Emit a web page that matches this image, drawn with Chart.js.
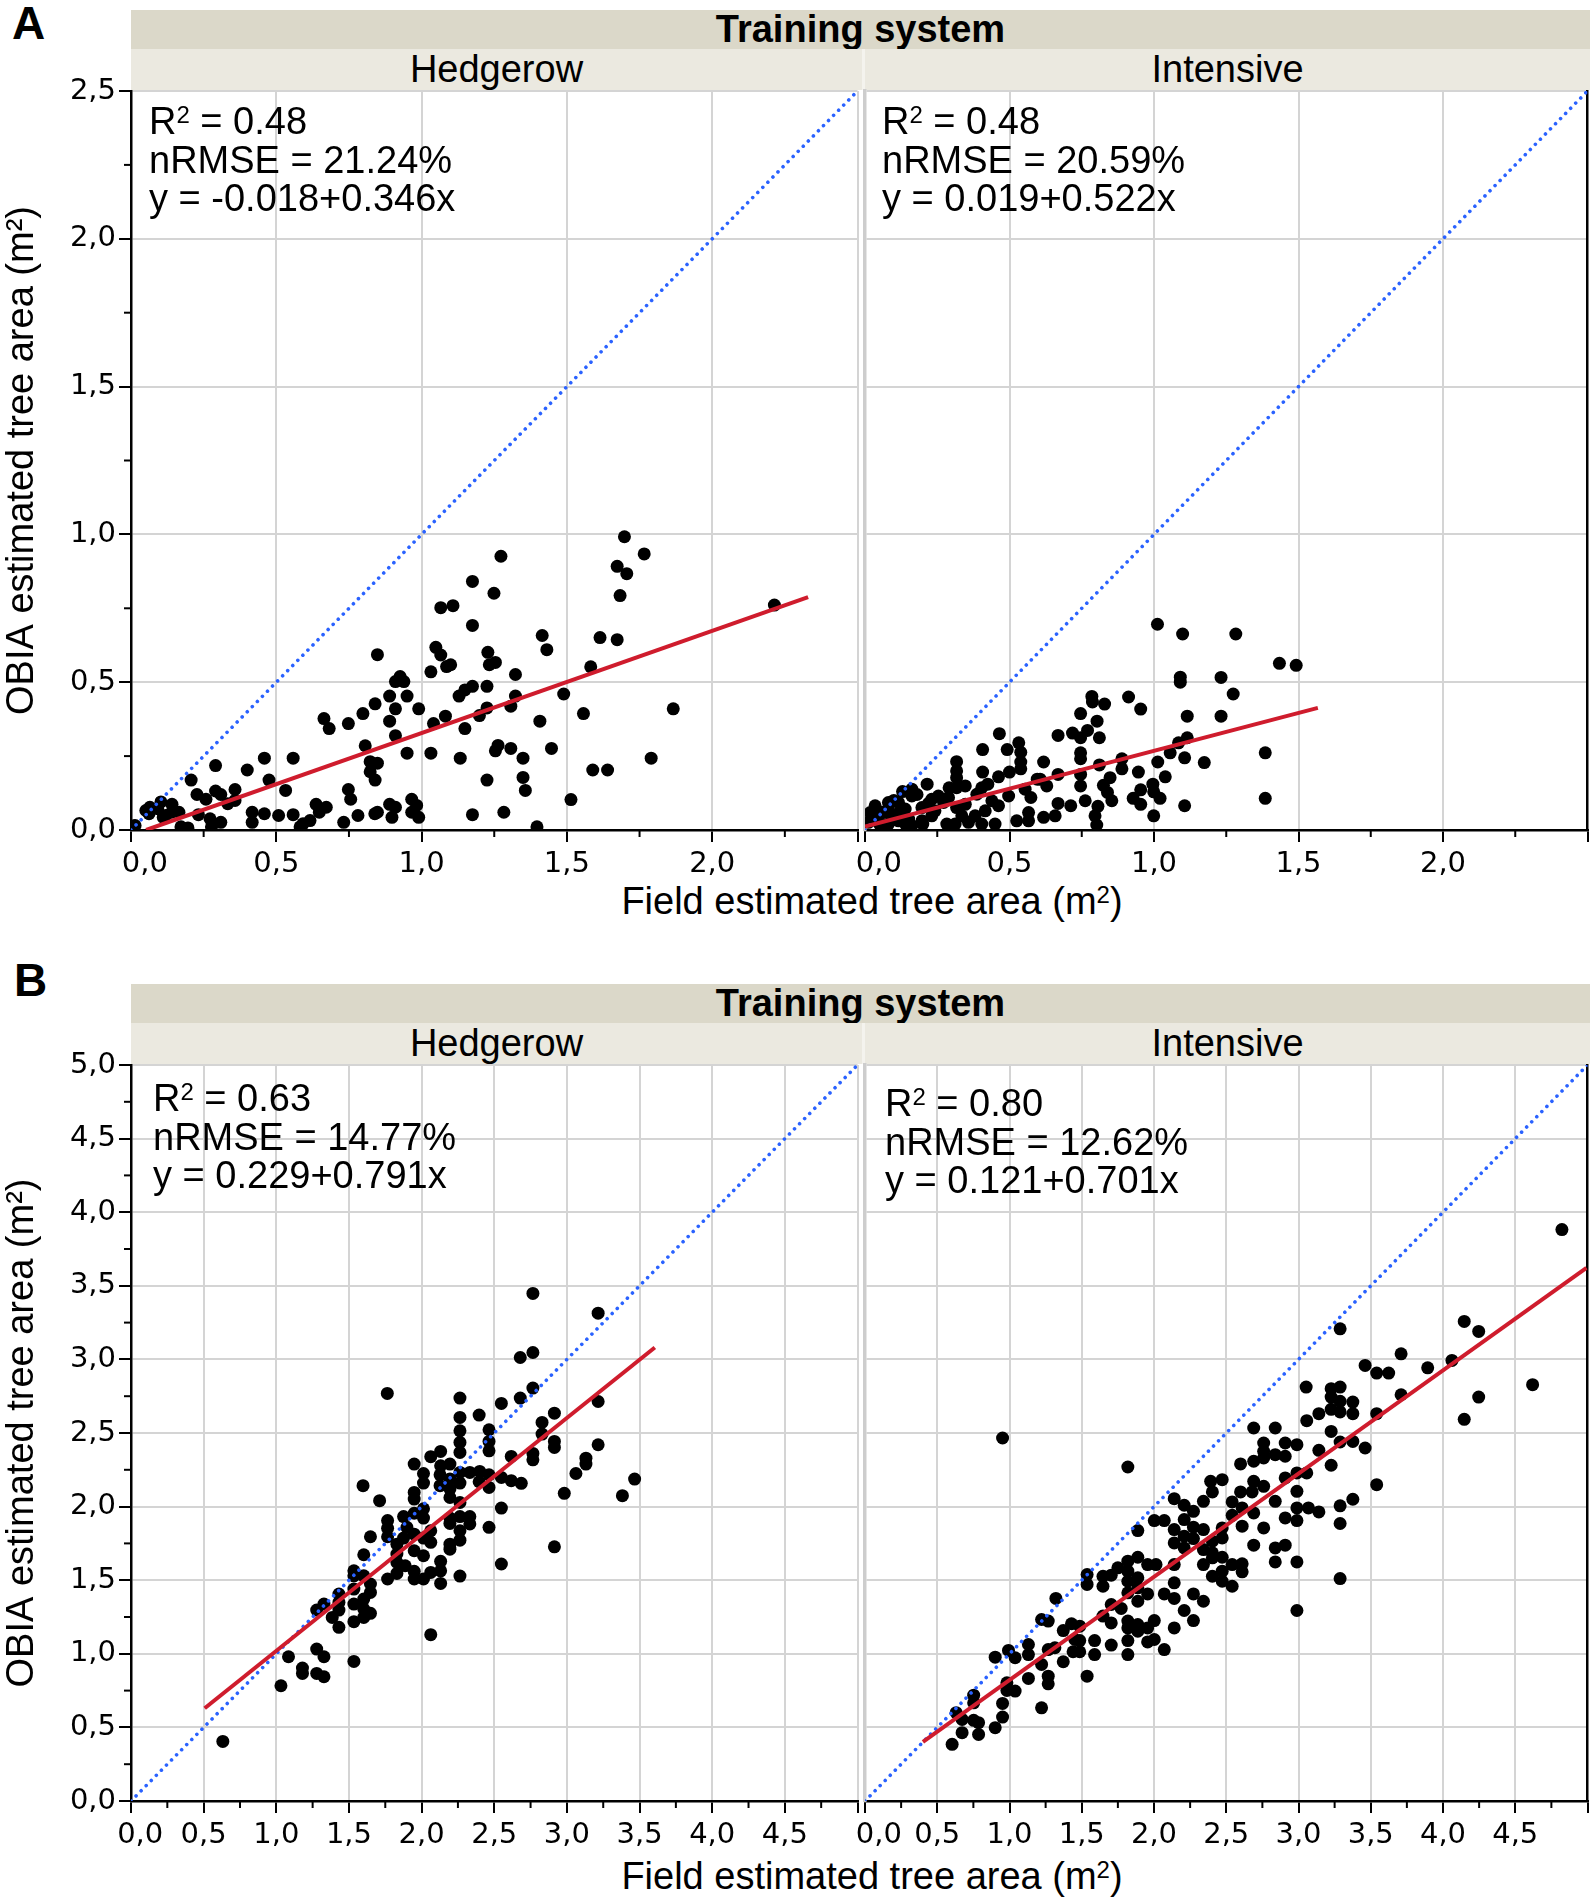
<!DOCTYPE html>
<html>
<head>
<meta charset="utf-8">
<script src="https://cdn.jsdelivr.net/npm/chart.js@4.4.1/dist/chart.umd.min.js"></script>
<style>
html,body{margin:0;padding:0;background:#fff;}
body{width:1594px;height:1899px;position:relative;overflow:hidden;font-family:"Liberation Sans",Arial,sans-serif;color:#000;}
.abs{position:absolute;}
.letter{font-weight:bold;font-size:46px;line-height:46px;}
.strip1{background:#dbd8c9;display:flex;align-items:center;justify-content:center;font-weight:bold;font-size:38px;}
.strip2{background:#ebe9e0;display:flex;align-items:center;justify-content:center;font-size:38px;}
.gap{background:#f4f3ee;}
.note{font-size:38px;line-height:38.5px;white-space:nowrap;z-index:5;}
.sup{font-size:24px;position:relative;top:-11px;line-height:0;}
.xtitle{font-size:38px;line-height:38px;text-align:center;width:800px;white-space:nowrap;}
canvas{z-index:1;}
</style>
</head>
<body>
<script>
// ---------------- DATA ----------------
// Panel A - Hedgerow
const hedgeA_x = [1.698,1.766,1.273,1.673,1.706,1.175,1.249,1.683,1.066,1.108,2.214,1.175,1.415,1.614,1.673,1.431,1.049,1.066,0.848,1.228,1.254,1.233,1.086,1.100,1.032,1.323,1.582,0.926,0.910,0.939,1.175,1.225,1.149,1.129,1.323,1.489,0.890,0.950,0.840,0.910,0.990,1.225,1.307,1.866,1.557,0.798,1.082,1.199,0.664,0.682,0.748,0.890,1.041,1.407,1.149,0.910,0.806,1.263,1.254,1.307,1.447,0.950,1.032,1.133,1.349,1.790,0.459,0.558,0.291,0.400,0.823,0.848,0.823,0.840,0.475,0.207,1.225,1.349,1.589,1.640,1.357,0.532,0.748,0.756,0.358,0.227,0.291,0.309,0.258,0.358,1.514,0.966,0.890,0.910,0.983,0.637,0.672,0.333,0.141,0.103,0.065,0.062,0.119,0.165,0.232,0.417,0.459,0.508,0.558,0.648,0.781,0.839,0.848,0.898,0.966,0.990,1.175,1.283,0.417,0.309,0.272,0.111,0.732,0.616,0.592,0.582,0.172,0.196,0.277,1.397,0.014,0.051,0.092,0.140];
const hedgeA_y = [0.992,0.934,0.926,0.892,0.867,0.841,0.801,0.793,0.752,0.759,0.761,0.692,0.658,0.651,0.644,0.610,0.618,0.592,0.593,0.601,0.567,0.559,0.553,0.559,0.535,0.526,0.552,0.519,0.502,0.502,0.486,0.486,0.474,0.453,0.453,0.460,0.453,0.453,0.427,0.410,0.410,0.413,0.419,0.410,0.394,0.394,0.385,0.387,0.377,0.343,0.360,0.368,0.360,0.368,0.343,0.319,0.285,0.286,0.268,0.276,0.276,0.260,0.260,0.243,0.243,0.243,0.243,0.243,0.218,0.203,0.231,0.226,0.197,0.169,0.169,0.169,0.169,0.178,0.203,0.203,0.134,0.134,0.137,0.104,0.137,0.120,0.132,0.120,0.104,0.100,0.103,0.104,0.087,0.077,0.083,0.087,0.077,0.089,0.087,0.095,0.077,0.055,0.049,0.060,0.052,0.060,0.055,0.049,0.052,0.060,0.049,0.055,0.060,0.043,0.060,0.043,0.052,0.060,0.026,0.026,0.038,0.043,0.026,0.032,0.021,0.011,0.011,0.007,0.011,0.011,0.015,0.066,0.072,0.060];

// Panel A - Intensive
const intA_x = [1.012,1.099,1.283,1.434,1.492,1.091,1.091,1.232,1.274,0.785,0.787,0.829,0.912,0.954,0.746,1.115,1.232,0.803,0.465,0.668,0.718,0.770,0.746,0.811,1.115,1.085,0.532,0.407,0.492,0.539,0.746,1.056,1.385,0.746,1.106,0.317,0.539,0.618,0.889,1.013,1.174,0.811,0.889,0.539,0.407,0.500,0.946,0.317,0.317,0.462,0.668,0.746,1.039,0.848,0.606,0.629,0.596,0.425,0.404,0.215,0.162,0.291,0.347,0.317,0.825,0.746,0.996,0.954,0.554,0.839,0.999,0.162,0.254,0.387,0.497,0.574,1.021,0.928,0.954,0.668,0.712,0.762,0.806,0.854,1.106,1.385,0.439,0.462,0.416,0.347,0.317,0.272,0.231,0.116,0.081,0.035,0.018,0.081,0.139,0.197,0.242,0.566,0.618,0.658,0.796,0.999,0.525,0.566,0.802,0.283,0.312,0.358,0.404,0.450,0.116,0.151,0.197,0.012,0.047,0.081,0.162,0.231,0.335,0.381,0.289,0.030,0.060,0.090,0.120,0.050,0.140,0.200,0.220,0.180,0.100,0.130];
const intA_y = [0.696,0.663,0.663,0.564,0.557,0.517,0.500,0.516,0.460,0.452,0.433,0.426,0.450,0.409,0.394,0.385,0.385,0.368,0.326,0.320,0.328,0.337,0.312,0.312,0.312,0.295,0.295,0.272,0.272,0.263,0.261,0.261,0.261,0.241,0.244,0.231,0.230,0.230,0.241,0.230,0.228,0.220,0.207,0.207,0.196,0.196,0.196,0.200,0.177,0.180,0.188,0.188,0.180,0.177,0.172,0.149,0.172,0.155,0.143,0.155,0.138,0.143,0.149,0.143,0.151,0.149,0.155,0.136,0.138,0.127,0.129,0.115,0.115,0.121,0.115,0.110,0.107,0.107,0.087,0.090,0.082,0.099,0.080,0.099,0.082,0.107,0.099,0.082,0.065,0.087,0.076,0.093,0.104,0.093,0.093,0.082,0.059,0.071,0.071,0.076,0.065,0.059,0.043,0.048,0.048,0.048,0.031,0.031,0.017,0.020,0.020,0.026,0.020,0.020,0.031,0.037,0.031,0.026,0.043,0.020,0.015,0.048,0.048,0.048,0.110,0.040,0.060,0.050,0.060,0.020,0.020,0.020,0.090,0.120,0.100,0.130];

// Panel B - Hedgerow
const hedgeB_x = [2.766,3.215,2.679,2.766,2.766,2.679,1.764,2.264,2.549,3.215,2.396,2.914,2.264,2.464,2.264,2.829,2.829,2.464,2.264,2.914,2.914,3.215,2.264,2.464,2.131,2.063,2.617,2.766,2.766,3.131,3.131,1.949,2.131,2.195,2.013,2.127,2.264,2.332,2.400,2.464,2.549,2.617,2.686,3.062,3.466,2.013,2.195,2.264,2.396,2.464,1.597,2.127,1.949,2.195,2.982,3.382,1.949,2.195,1.711,2.264,2.013,2.549,1.949,1.876,2.013,2.195,2.264,2.332,1.766,2.332,2.195,1.766,2.464,1.899,2.063,2.264,1.766,1.949,1.648,1.876,2.013,2.063,2.264,2.195,1.830,2.195,2.914,1.949,1.602,1.830,2.013,1.830,1.887,2.131,2.549,1.534,1.602,1.534,1.830,1.949,2.063,2.131,2.264,1.766,1.949,2.013,2.131,1.648,1.534,1.431,1.648,1.602,1.328,1.278,1.431,1.534,1.431,1.602,1.648,1.385,1.602,1.534,1.431,2.063,1.278,1.328,1.084,1.534,1.180,1.180,1.278,1.328,1.032,0.632];
const hedgeB_y = [3.448,3.314,3.013,3.047,2.805,2.737,2.769,2.737,2.701,2.714,2.622,2.635,2.606,2.522,2.515,2.572,2.493,2.443,2.436,2.443,2.402,2.420,2.368,2.379,2.375,2.339,2.341,2.361,2.318,2.329,2.289,2.289,2.277,2.289,2.225,2.216,2.232,2.232,2.239,2.216,2.198,2.176,2.158,2.225,2.187,2.160,2.187,2.160,2.169,2.130,2.142,2.142,2.096,2.119,2.090,2.074,2.051,2.062,2.040,2.028,1.985,1.990,1.955,1.932,1.922,1.922,1.932,1.932,1.905,1.882,1.886,1.853,1.859,1.859,1.836,1.836,1.795,1.813,1.795,1.786,1.786,1.757,1.772,1.745,1.745,1.711,1.727,1.700,1.673,1.678,1.666,1.621,1.598,1.628,1.610,1.564,1.530,1.530,1.546,1.560,1.553,1.564,1.528,1.508,1.508,1.508,1.478,1.474,1.440,1.406,1.417,1.372,1.338,1.297,1.349,1.338,1.297,1.304,1.275,1.247,1.247,1.218,1.180,1.130,1.032,0.980,0.980,0.948,0.903,0.867,0.867,0.844,0.783,0.405];

// Panel B - Intensive
const intB_x = [0.952,1.819,2.690,2.839,3.057,2.759,2.908,2.989,2.759,2.839,2.908,2.690,2.599,2.759,2.989,3.057,2.392,2.472,2.690,2.759,2.404,2.599,2.908,2.140,2.209,2.342,2.541,2.679,2.839,2.989,2.273,2.610,2.690,2.989,3.069,2.002,2.071,2.209,2.541,2.908,2.989,1.888,2.140,2.273,2.342,2.472,2.610,2.759,2.209,2.140,2.273,2.404,2.472,2.690,2.839,2.908,2.209,2.342,2.404,1.888,1.819,2.404,2.472,1.956,2.014,2.140,2.342,2.541,2.610,2.839,2.989,1.750,1.819,2.404,2.472,2.610,1.537,1.537,1.647,1.704,1.819,1.888,2.140,2.472,2.541,1.647,1.819,1.888,1.956,2.071,2.273,1.321,2.140,1.888,2.342,1.704,1.773,2.209,2.989,1.647,1.222,1.268,1.704,1.819,1.888,2.002,2.273,1.429,1.486,1.372,1.819,1.888,1.956,2.140,1.452,1.486,1.589,1.819,1.956,2.002,1.704,1.131,1.268,1.314,0.993,1.039,1.131,0.901,1.440,1.486,1.589,1.819,2.071,1.222,1.372,1.537,1.131,1.268,1.268,0.982,0.982,1.039,0.752,0.752,0.952,1.222,0.631,0.952,0.672,0.752,0.786,0.901,0.672,0.786,0.603,
  4.823,4.147,4.247,3.288,3.710,3.461,3.541,3.624,3.894,4.062,4.620,4.247,4.147,3.710,3.541,3.053,3.226,3.288,3.226,3.288,3.376,3.226,3.288,3.376,3.141,3.226,3.288,3.376,3.461,3.141,3.226,3.541,3.376,3.288,3.141,3.288,3.288];
const intB_y = [2.466,2.269,2.534,2.534,2.584,2.432,2.432,2.421,2.376,2.353,2.342,2.308,2.290,2.330,2.229,2.229,2.172,2.183,2.172,2.138,2.100,2.100,2.195,2.054,2.009,2.036,2.032,2.100,2.036,2.104,1.968,1.991,1.957,1.991,1.991,1.905,1.905,1.912,1.941,1.923,1.905,1.837,1.844,1.860,1.844,1.855,1.867,1.855,1.799,1.753,1.783,1.765,1.787,1.738,1.719,1.738,1.719,1.708,1.686,1.656,1.629,1.652,1.656,1.606,1.606,1.606,1.606,1.606,1.611,1.624,1.624,1.584,1.561,1.527,1.561,1.557,1.538,1.471,1.527,1.534,1.493,1.516,1.482,1.493,1.459,1.459,1.414,1.448,1.407,1.407,1.407,1.376,1.376,1.357,1.357,1.335,1.308,1.294,1.294,1.256,1.233,1.222,1.210,1.222,1.199,1.226,1.226,1.204,1.188,1.158,1.176,1.154,1.176,1.176,1.097,1.090,1.090,1.090,1.081,1.097,1.059,1.063,1.029,1.041,1.023,0.973,0.995,0.977,1.014,1.014,0.995,0.995,1.029,0.928,0.946,0.848,0.833,0.848,0.796,0.803,0.751,0.747,0.719,0.667,0.663,0.633,0.600,0.570,0.554,0.548,0.532,0.498,0.464,0.452,0.385,
  3.882,3.258,3.190,3.208,3.038,2.959,2.907,2.907,2.943,2.993,2.828,2.744,2.593,2.760,2.631,2.812,2.801,2.812,2.744,2.715,2.710,2.661,2.643,2.631,2.631,2.511,2.439,2.443,2.398,2.382,2.281,2.149,2.050,2.005,1.964,1.885,1.511];

// Regression lines as drawn: [Hedgerow A, Intensive A, Hedgerow B, Intensive B]
const regStartX    = [0.052, 0.000, 0.507, 0.401];
const regEndX      = [2.330, 1.567, 3.605, 4.993];
const regIntercept = [-0.018, 0.012, 0.229, 0.121];
const regSlope     = [0.346, 0.256, 0.791, 0.701];

// Annotation texts
const noteR2    = ['0.48', '0.48', '0.63', '0.80'];
const noteRMSE  = ['21.24%', '20.59%', '14.77%', '12.62%'];
const noteEq    = ['y = -0.018+0.346x', 'y = 0.019+0.522x', 'y = 0.229+0.791x', 'y = 0.121+0.701x'];

// Axis ranges
const axisMaxA = 2.5;
const axisMaxB = 5.0;
const stripTitle = 'Training system';
const groupNames = ['Hedgerow', 'Intensive'];
const yTitle = 'OBIA estimated tree area (m\u00B2)';

// ---------------- LAYOUT ----------------
const PAD_TOP = 25, XAXIS_H = 60;
function el(cls, css, html) {
  const d = document.createElement('div');
  d.className = 'abs ' + cls;
  d.style.cssText = css;
  d.innerHTML = html;
  document.body.appendChild(d);
  return d;
}

// Letters
el('letter', 'left:12px;top:0px;', 'A');
el('letter', 'left:14px;top:957px;', 'B');

// Strips
function strips(top1, h1, h2) {
  el('strip1', `left:131px;top:${top1}px;width:1459px;height:${h1}px;`, stripTitle);
  el('strip2', `left:131px;top:${top1 + h1}px;width:731px;height:${h2}px;`, groupNames[0]);
  el('gap', `left:862px;top:${top1 + h1}px;width:3px;height:${h2}px;`, '');
  el('strip2', `left:865px;top:${top1 + h1}px;width:725px;height:${h2}px;`, groupNames[1]);
}
strips(10, 39, 41);
strips(984, 39, 41);

// Annotations
function note(i, left, top) {
  el('note', `left:${left}px;top:${top}px;`,
    `R<span class="sup">2</span> = ${noteR2[i]}<br>nRMSE = ${noteRMSE[i]}<br>${noteEq[i]}`);
}
note(0, 149, 102);
note(1, 882, 102);
note(2, 153, 1079);
note(3, 885, 1084);

// X titles
el('xtitle', 'left:472px;top:882px;', 'Field estimated tree area (m<span class="sup">2</span>)');
el('xtitle', 'left:472px;top:1857px;', 'Field estimated tree area (m<span class="sup">2</span>)');

// ---------------- CHARTS ----------------
const minorTicksPlugin = {
  id: 'minorTicks',
  afterDraw(chart, args, o) {
    const {ctx, chartArea: a, scales} = chart;
    ctx.save();
    ctx.strokeStyle = '#000';
    ctx.lineWidth = 2;
    for (let v = 0.25; v < o.max; v += 0.5) {
      const px = scales.x.getPixelForValue(v);
      ctx.beginPath(); ctx.moveTo(px, a.bottom); ctx.lineTo(px, a.bottom + 7); ctx.stroke();
      if (o.yMinor) {
        const py = scales.y.getPixelForValue(v);
        ctx.beginPath(); ctx.moveTo(a.left - 7, py); ctx.lineTo(a.left, py); ctx.stroke();
      }
    }
    ctx.restore();
  }
};

const fmt = v => Number(v).toFixed(1).replace('.', ',');
const GRID = '#d4d4d4';
const TRANSP = 'rgba(0,0,0,0)';
const tickFont = {family: 'DejaVu Sans', size: 29};

function build(p) {
  const isLeft = p.side === 'left';
  const cLeft = isLeft ? 0 : 802;
  const cW = isLeft ? 864 : 792;
  const cTop = p.top - PAD_TOP;
  const cH = PAD_TOP + (p.bottom - p.top) + XAXIS_H;
  const cv = document.createElement('canvas');
  cv.width = cW; cv.height = cH;
  cv.style.cssText = `position:absolute;left:${cLeft}px;top:${cTop}px;width:${cW}px;height:${cH}px;`;
  document.body.appendChild(cv);

  const pts = p.xs.map((x, i) => ({x: x, y: p.ys[i]}));
  const r = p.reg;
  const regLine = [regStartX[r], regEndX[r]].map(x => ({x: x, y: regIntercept[r] + regSlope[r] * x}));
  const idLine = [{x: 0, y: 0}, {x: p.max, y: p.max}];
  const isMax = v => Math.abs(v - p.max) < 1e-9;

  const scales = {
    x: {
      type: 'linear', min: 0, max: p.max, position: 'bottom',
      afterFit: s => { s.height = XAXIS_H; },
      ticks: {
        stepSize: 0.5, autoSkip: false, maxRotation: 0, minRotation: 0, padding: 5,
        color: '#000', font: tickFont,
        callback: v => isMax(v) ? '' : (Math.abs(v) < 1e-9 ? '\u00a0'.repeat(p.zeroPad) + fmt(v) : fmt(v))
      },
      grid: {
        color: c => (c.tick && (Math.abs(c.tick.value) < 1e-9 || (isMax(c.tick.value) && !isLeft))) ? TRANSP : GRID,
        lineWidth: 2, drawTicks: true, tickLength: 12, tickColor: '#000', tickWidth: 2
      },
      border: {display: true, color: '#000', width: 2.5}
    }
  };
  if (isLeft) {
    scales.y = {
      type: 'linear', min: 0, max: p.max, position: 'left',
      afterFit: s => { s.width = 131; },
      ticks: {stepSize: 0.5, padding: 3, color: '#000', font: tickFont, callback: v => fmt(v)},
      grid: {
        color: c => (c.tick && Math.abs(c.tick.value) < 1e-9) ? TRANSP : GRID,
        lineWidth: 2, drawTicks: true, tickLength: 12, tickColor: '#000', tickWidth: 2
      },
      border: {display: true, color: '#000', width: 2.5},
      title: {display: true, text: yTitle, color: '#000', font: {family: 'Liberation Sans', size: 38}, padding: 0}
    };
  } else {
    scales.y = {
      type: 'linear', min: 0, max: p.max, position: 'left',
      afterFit: s => { s.width = 3; },
      ticks: {display: false, stepSize: 0.5},
      grid: {
        color: c => (c.tick && Math.abs(c.tick.value) < 1e-9) ? TRANSP : GRID,
        lineWidth: 2, drawTicks: false
      },
      border: {display: true, color: '#cdcdcd', width: 3.5}
    };
    scales.y2 = {
      type: 'linear', min: 0, max: p.max, position: 'right',
      afterFit: s => { s.width = 0; },
      ticks: {display: false},
      grid: {color: TRANSP, drawTicks: false},
      border: {display: true, color: '#000', width: 2.5}
    };
  }

  new Chart(cv, {
    type: 'scatter',
    data: {
      datasets: [
        {type: 'line', data: regLine, borderColor: '#cf1c2d', borderWidth: 4, pointRadius: 0, order: 0, fill: false},
        {type: 'line', data: idLine, borderColor: '#2a62ff', borderWidth: 3.6, borderDash: [0.01, 7.2], borderCapStyle: 'round', pointRadius: 0, order: 1, fill: false},
        {data: pts, pointRadius: 6.5, pointBackgroundColor: '#000', pointBorderColor: '#000', pointBorderWidth: 0, order: 2}
      ]
    },
    options: {
      responsive: false, animation: false, devicePixelRatio: 1,
      layout: {padding: {top: PAD_TOP, left: isLeft ? 0 : 60, right: isLeft ? 2 : 4, bottom: 0}},
      plugins: {legend: {display: false}, tooltip: {enabled: false}, minorTicks: {max: p.max, yMinor: isLeft}},
      scales: scales
    },
    plugins: [minorTicksPlugin]
  });
}

build({side: 'left',  xs: hedgeA_x, ys: hedgeA_y, max: axisMaxA, reg: 0, top: 91,   bottom: 830,  zeroPad: 3});
build({side: 'right', xs: intA_x,   ys: intA_y,   max: axisMaxA, reg: 1, top: 91,   bottom: 830,  zeroPad: 3});
build({side: 'left',  xs: hedgeB_x, ys: hedgeB_y, max: axisMaxB, reg: 2, top: 1065, bottom: 1801, zeroPad: 2});
build({side: 'right', xs: intB_x,   ys: intB_y,   max: axisMaxB, reg: 3, top: 1065, bottom: 1801, zeroPad: 3});
</script>
</body>
</html>
